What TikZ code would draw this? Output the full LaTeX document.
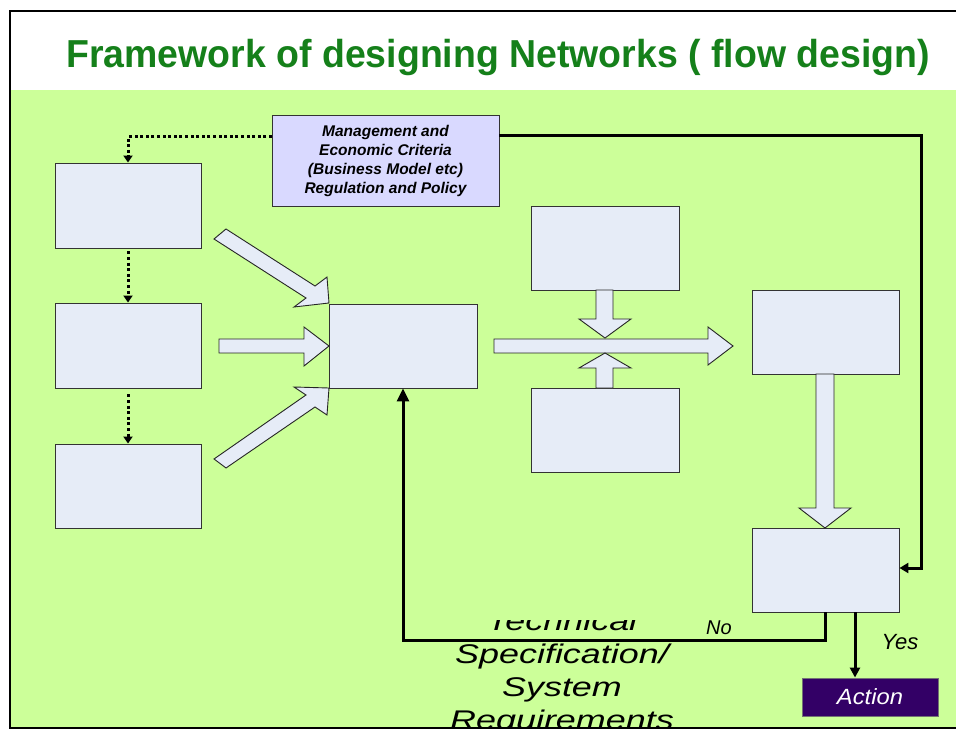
\documentclass[tikz,border=0pt]{standalone}
\usepackage{fontspec}
\setmainfont{Liberation Sans}
\usetikzlibrary{arrows.meta}
\definecolor{bggreen}{HTML}{CCFF99}
\definecolor{boxfill}{HTML}{E6ECF7}
\definecolor{mgmtfill}{HTML}{D9D9FF}
\definecolor{actfill}{HTML}{330066}
\definecolor{titlegreen}{HTML}{15801A}
\tikzset{
  box/.style={draw=black!80, line width=0.9pt, fill=boxfill, inner sep=0pt},
  blockarrow/.style={draw=black!85, line width=0.9pt, fill=boxfill, line join=miter},
  dotconn/.style={line width=3pt, dash pattern=on 3pt off 2.6pt, -{Triangle[length=7pt,width=9pt]}},
  solidconn/.style={line width=3pt, -{Triangle[length=13pt,width=12pt]}},
}
\newcommand{\wide}[1]{\scalebox{1.33}[1]{#1}}
\begin{document}
\begin{tikzpicture}[x=1pt,y=-1pt]
\useasboundingbox (0,0) rectangle (956,735);
\fill[white] (0,0) rectangle (956,735);
\fill[bggreen] (10,90) rectangle (956,728);
% text behind the feedback line
\begin{scope}
\clip (380,620) rectangle (740,728);
\node[font=\itshape\fontsize{27}{33}\selectfont, align=center, anchor=base] (tech) at (562,729)
  {\wide{Technical}\\\wide{Specification/}\\\wide{System}\\\wide{Requirements}};
\end{scope}
% boxes
\node[box, minimum width=146pt, minimum height=85pt] (L1) at (128,205.5) {};
\node[box, minimum width=146pt, minimum height=85pt] (L2) at (128,345.5) {};
\node[box, minimum width=146pt, minimum height=84pt] (L3) at (128,486) {};
\node[box, minimum width=148pt, minimum height=84pt] (C) at (403,346) {};
\node[box, minimum width=148pt, minimum height=84pt] (T) at (605,248) {};
\node[box, minimum width=148pt, minimum height=84pt] (B) at (605,430) {};
\node[box, minimum width=147pt, minimum height=84pt] (R) at (825.5,332) {};
\node[box, minimum width=147pt, minimum height=84pt] (D) at (825.5,570) {};
\node[box, fill=mgmtfill, minimum width=227pt, minimum height=91pt, align=center,
      font=\bfseries\itshape\fontsize{15.5}{19}\selectfont] (M) at (385.5,161)
  {Management and\\Economic Criteria\\(Business Model etc)\\Regulation and Policy};
\node[draw=black!55, line width=0.9pt, fill=actfill, text=white, minimum width=136pt, minimum height=38pt,
      font=\itshape\fontsize{22}{26}\selectfont] (A) at (870,697) {\scalebox{1.08}[1]{Action}};
% block arrows
\draw[blockarrow] (226,229) -- (315,286) -- (327,277) -- (329,303) -- (294,307) -- (306,298) -- (214,239) -- cycle;
\draw[blockarrow] (219,339) -- (304,339) -- (304,327) -- (329,346) -- (304,366) -- (304,353) -- (219,353) -- cycle;
\draw[blockarrow] (214,459) -- (306,395) -- (294,387) -- (329,388) -- (327,415) -- (315,407) -- (226,468) -- cycle;
\draw[blockarrow] (494,339) -- (708,339) -- (708,327) -- (733,346) -- (708,365) -- (708,353) -- (494,353) -- cycle;
\draw[blockarrow] (596,290) -- (613,290) -- (613,319) -- (631,319) -- (605,338) -- (579,319) -- (596,319) -- cycle;
\draw[blockarrow] (596,388) -- (613,388) -- (613,368) -- (631,368) -- (605,353) -- (579,368) -- (596,368) -- cycle;
\draw[blockarrow] (816,374) -- (834,374) -- (834,508) -- (851,508) -- (825,528) -- (799,508) -- (816,508) -- cycle;
% dotted connectors
\coordinate (m1) at (272,137);
\draw[dotconn] (m1) -| (L1.north);
\draw[dotconn, shorten <=3pt] (L1.south) -- (L2.north);
\draw[dotconn, shorten <=6pt] (L2.south) -- (L3.north);
% solid connectors
\coordinate (m2) at (499,136);
\coordinate (d1) at (921,568);
\draw[line width=3pt, -{Triangle[length=9pt,width=10pt]}] (m2) -- (921,136) -- (d1) -- (D.east |- d1);
\draw[solidconn] (D.south) -- ++(0,28) -| (C.south);
\coordinate (y1) at (855,612);
\draw[line width=3pt, -{Triangle[length=10pt,width=10pt]}] (y1) -- (y1 |- A.north);
% labels
\node[font=\itshape\fontsize{20}{22}\selectfont, anchor=base] (no) at (719,634) {No};
\node[font=\itshape\fontsize{22}{24}\selectfont, anchor=base] (yes) at (900,649) {Yes};
\draw[line width=2.8pt] (956,11) -- (10,11) -- (10,728) -- (956,728);
% title
\node[font=\bfseries\fontsize{39}{44}\selectfont, text=titlegreen, anchor=base] (title) at (498,68) {\scalebox{0.96}[1]{Framework of designing Networks ( flow design)}};
\end{tikzpicture}
\end{document}
